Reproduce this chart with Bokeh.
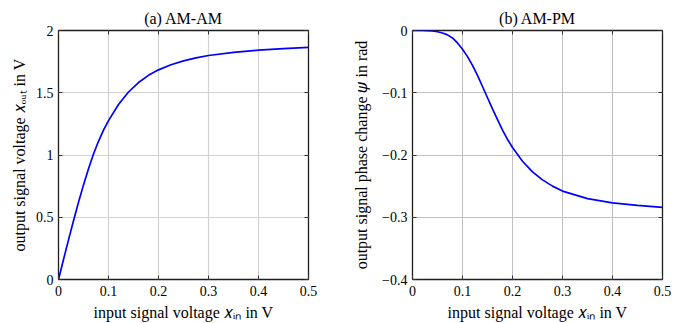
from bokeh.plotting import figure
from bokeh.models import Range1d, FixedTicker, LinearAxis
from bokeh.layouts import row
from bokeh.embed import file_html
from bokeh.resources import INLINE

# ---- data ----
am_x = [0, 0.01, 0.02, 0.03, 0.04, 0.05, 0.06, 0.07, 0.08, 0.09, 0.1, 0.12, 0.14,
        0.16, 0.18, 0.2, 0.225, 0.25, 0.275, 0.3, 0.35, 0.4, 0.45, 0.5]
am_y = [0, 0.16, 0.318, 0.472, 0.62, 0.76, 0.89, 1.008, 1.11, 1.199, 1.276, 1.406, 1.506,
        1.582, 1.64, 1.684, 1.725, 1.756, 1.78, 1.799, 1.824, 1.842, 1.855, 1.865]

pm_x = [0, 0.02, 0.04, 0.05, 0.06, 0.07, 0.08, 0.09, 0.1, 0.11, 0.12, 0.13, 0.14,
        0.15, 0.16, 0.17, 0.18, 0.19, 0.2, 0.22, 0.24, 0.26, 0.28, 0.3, 0.35, 0.4,
        0.45, 0.5]
pm_y = [0, 0, -0.0005, -0.002, -0.004, -0.007, -0.012, -0.02, -0.03, -0.042, -0.056,
        -0.072, -0.09, -0.108, -0.126, -0.143, -0.16, -0.175, -0.188, -0.21, -0.227,
        -0.24, -0.25, -0.258, -0.27, -0.277, -0.281, -0.284]

x_ticks = [0, 0.1, 0.2, 0.3, 0.4, 0.5]
x_tick_labels = ["0", "0.1", "0.2", "0.3", "0.4", "0.5"]
am_y_ticks = [0, 0.5, 1, 1.5, 2]
am_y_tick_labels = ["0", "0.5", "1", "1.5", "2"]
pm_y_ticks = [-0.4, -0.3, -0.2, -0.1, 0]
pm_y_tick_labels = ["\u22120.4", "\u22120.3", "\u22120.2", "\u22120.1", "0"]

titles = ["(a) AM-AM", "(b) AM-PM"]
x_label = "input signal voltage \U0001D465\u1D62\u2099 in V"
am_y_label = "output signal voltage \U0001D465\u2092\u1D64\u209C in V"
pm_y_label = "output signal phase change \U0001D713 in rad"

FONT = "Liberation Serif"


def make_fig(xs, ys, yr, yticks, ylabels, title, ylabel, bl, br, grid_color, grid_w,
             ylab_standoff):
    p = figure(frame_width=250, frame_height=249, x_range=Range1d(0, 0.5),
               y_range=Range1d(*yr), output_backend="svg", toolbar_location=None,
               min_border_left=bl, min_border_right=br, min_border_top=30,
               min_border_bottom=44, title=title)
    p.background_fill_color = "white"
    p.border_fill_color = "white"
    p.outline_line_color = "#1e1e1e"
    p.outline_line_width = 1.3

    p.title.align = "center"
    p.title.text_font = FONT
    p.title.text_font_size = "16px"
    p.title.text_font_style = "normal"
    p.title.text_color = "black"
    p.title.standoff = 8

    bottom = p.below[0]
    left = p.left[0]
    top = LinearAxis()
    right = LinearAxis()
    p.add_layout(top, "above")
    p.add_layout(right, "right")

    bottom.ticker = FixedTicker(ticks=x_ticks)
    bottom.major_label_overrides = {t: l for t, l in zip(x_ticks, x_tick_labels)}
    top.ticker = FixedTicker(ticks=x_ticks)
    top.major_label_overrides = {t: "" for t in x_ticks}
    left.ticker = FixedTicker(ticks=yticks)
    left.major_label_overrides = {t: l for t, l in zip(yticks, ylabels)}
    right.ticker = FixedTicker(ticks=yticks)
    right.major_label_overrides = {t: "" for t in yticks}

    for ax in (bottom, left, top, right):
        ax.axis_line_color = None
        ax.major_tick_in = 4
        ax.major_tick_out = 0
        ax.major_tick_line_color = "#333333"
        ax.major_tick_line_width = 1
        ax.minor_tick_line_color = None
        ax.major_label_text_font = FONT
        ax.major_label_text_font_size = "14px"
        ax.major_label_text_color = "black"
        ax.axis_label_text_font = FONT
        ax.axis_label_text_font_size = "16px"
        ax.axis_label_text_font_style = "normal"
        ax.axis_label_text_color = "black"
    bottom.major_label_standoff = 6
    left.major_label_standoff = 5
    top.major_label_standoff = 0
    right.major_label_standoff = 0

    bottom.axis_label = x_label
    bottom.axis_label_standoff = 5
    left.axis_label = ylabel
    left.axis_label_standoff = ylab_standoff

    p.xgrid.ticker = FixedTicker(ticks=x_ticks)
    p.ygrid.ticker = FixedTicker(ticks=yticks)
    p.grid.grid_line_color = grid_color
    p.grid.grid_line_width = grid_w

    p.line(xs, ys, line_color="#0000ff", line_width=1.7)
    return p


p1 = make_fig(am_x, am_y, (0, 2), am_y_ticks, am_y_tick_labels, titles[0], am_y_label,
              58, 39, "#d2d2d2", 1.2, 5)
p2 = make_fig(pm_x, pm_y, (-0.4, 0), pm_y_ticks, pm_y_tick_labels, titles[1], pm_y_label,
              65, 32, "#c0c0c0", 1.0, 9)

layout = row(p1, p2)
open("out.html", "w").write(file_html(layout, INLINE))
